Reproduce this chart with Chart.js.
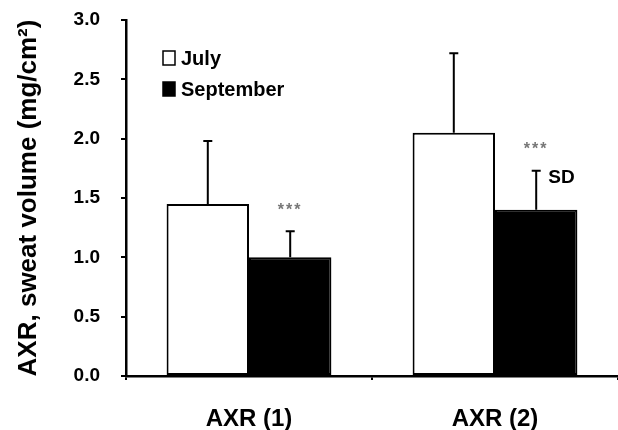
<!DOCTYPE html>
<html>
<head>
<meta charset="utf-8">
<script src="https://cdn.jsdelivr.net/npm/chart.js@4.4.1/dist/chart.umd.min.js"></script>
<style>
  html, body { margin: 0; padding: 0; background: #fff; }
  #wrap { width: 618px; height: 430px; }
</style>
</head>
<body>
<div id="wrap"><canvas id="c" width="618" height="430"></canvas></div>
<script>
const categories = ['AXR (1)', 'AXR (2)'];
const julyValues = [1.45, 2.05];
const septemberValues = [1.00, 1.40];
const julySD = [0.53, 0.67];
const septemberSD = [0.22, 0.33];
const yTicks = [0.0, 0.5, 1.0, 1.5, 2.0, 2.5, 3.0];
const seriesNames = ['July', 'September'];
const significance = ['***', '***'];

const FONT = '"Liberation Sans", Arial, sans-serif';

const errorBarPlugin = {
  id: 'errorBars',
  afterDatasetsDraw(chart) {
    const ctx = chart.ctx;
    const y = chart.scales.y;
    const sds = [julySD, septemberSD];
    chart.data.datasets.forEach((ds, di) => {
      const meta = chart.getDatasetMeta(di);
      meta.data.forEach((bar, i) => {
        const v = ds.data[i];
        const top = y.getPixelForValue(v + sds[di][i]);
        const base = y.getPixelForValue(v);
        ctx.save();
        ctx.strokeStyle = '#000';
        ctx.lineWidth = 2;
        ctx.beginPath();
        ctx.moveTo(bar.x, base);
        ctx.lineTo(bar.x, top);
        ctx.moveTo(bar.x - 4.5, top);
        ctx.lineTo(bar.x + 4.5, top);
        ctx.stroke();
        if (di === 1) {
          ctx.fillStyle = '#777';
          ctx.font = 'bold 16px ' + FONT;
          try { ctx.letterSpacing = '2px'; } catch (e) {}
          ctx.textAlign = 'center';
          ctx.textBaseline = 'middle';
          ctx.fillText(significance[i], bar.x, top - 21);
          try { ctx.letterSpacing = '0px'; } catch (e) {}
          if (i === categories.length - 1) {
            ctx.fillStyle = '#000';
            ctx.font = 'bold 19px ' + FONT;
            ctx.textAlign = 'left';
            ctx.fillText('SD', bar.x + 12, top + 7);
          }
        }
        ctx.restore();
      });
    });
  }
};

const legendPlugin = {
  id: 'customLegend',
  afterDraw(chart) {
    const ctx = chart.ctx;
    const items = [
      { name: seriesNames[0], fill: '#fff', y: 58 },
      { name: seriesNames[1], fill: '#000', y: 89 }
    ];
    ctx.save();
    items.forEach(it => {
      ctx.fillStyle = it.fill;
      ctx.fillRect(163, it.y - 7, 12, 14);
      ctx.strokeStyle = '#000';
      ctx.lineWidth = 1.5;
      ctx.strokeRect(163, it.y - 7, 12, 14);
      ctx.fillStyle = '#000';
      ctx.font = 'bold 20px ' + FONT;
      ctx.textAlign = 'left';
      ctx.textBaseline = 'middle';
      ctx.fillText(it.name, 181, it.y + 1);
    });
    ctx.restore();
  }
};

new Chart(document.getElementById('c'), {
  type: 'bar',
  data: {
    labels: categories,
    datasets: [
      {
        label: seriesNames[0],
        data: julyValues,
        backgroundColor: '#ffffff',
        borderColor: '#000000',
        borderWidth: 2,
        borderSkipped: false,
        categoryPercentage: 0.67,
        barPercentage: 1.0
      },
      {
        label: seriesNames[1],
        data: septemberValues,
        backgroundColor: '#000000',
        borderColor: '#000000',
        borderWidth: 2,
        borderSkipped: false,
        categoryPercentage: 0.67,
        barPercentage: 1.0
      }
    ]
  },
  options: {
    responsive: false,
    animation: false,
    devicePixelRatio: 1,
    layout: { padding: { top: 20, right: 0, left: 0, bottom: 0 } },
    plugins: {
      legend: { display: false },
      tooltip: { enabled: false }
    },
    scales: {
      x: {
        offset: true,
        grid: {
          offset: true,
          drawOnChartArea: false,
          drawTicks: true,
          tickLength: 4,
          color: '#000',
          lineWidth: 2
        },
        border: { display: true, color: '#000', width: 2.5 },
        ticks: {
          color: '#000',
          padding: 25,
          font: { family: FONT, size: 24, weight: 'bold' }
        },
        afterFit(scale) { scale.height = 54; }
      },
      y: {
        min: 0,
        max: 3.0,
        afterBuildTicks(scale) { scale.ticks = yTicks.map(v => ({ value: v })); },
        grid: {
          drawOnChartArea: false,
          drawTicks: true,
          tickLength: 24,
          tickBorderDash: [0, 19, 6, 200],
          color: '#000',
          lineWidth: 2
        },
        border: { display: true, color: '#000', width: 2.5 },
        ticks: {
          color: '#000',
          padding: 2,
          font: { family: FONT, size: 19, weight: 'bold' },
          callback: (v) => Number(v).toFixed(1)
        },
        title: {
          display: true,
          text: 'AXR, sweat volume (mg/cm²)',
          color: '#000',
          font: { family: FONT, size: 26, weight: 'bold' },
          padding: { top: 13, bottom: 0 }
        },
        afterFit(scale) { scale.width = 126; }
      }
    }
  },
  plugins: [errorBarPlugin, legendPlugin]
});
</script>
</body>
</html>
